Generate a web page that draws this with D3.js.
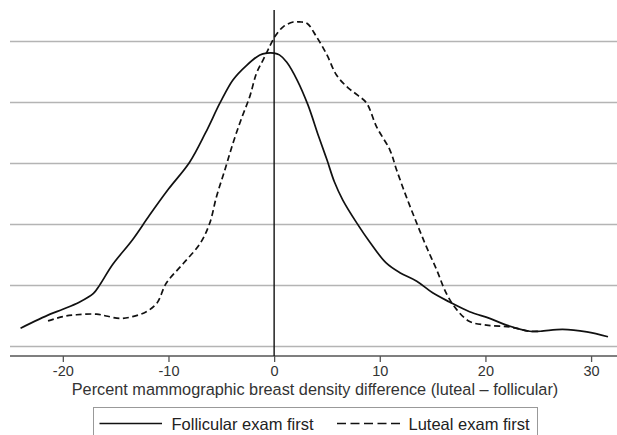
<!DOCTYPE html>
<html>
<head>
<meta charset="utf-8">
<script src="https://cdn.jsdelivr.net/npm/d3@7"></script>
<style>
    body { margin: 0; background: #fff; }
    svg { display: block; font-family: "Liberation Sans", Arial, sans-serif; }
</style>
</head>
<body>
<div id="chart"></div>
<script>

// kernel density estimates (density scaled x100)
var follicularX = [-24.0, -21.2, -20.0, -18.4, -17.1, -16.5, -15.3, -13.4, -11.8, -10.0, -8.0, -6.5, -5.1, -3.9, -2.6, -1.35, -0.7, 0.0, 0.5, 1.2, 2.2, 3.2, 4.2, 5.0, 5.7, 6.5, 7.8, 9.1, 10.6, 11.9, 13.5, 15.0, 16.6, 18.5, 20.4, 22.0, 24.2, 25.2, 27.3, 29.6, 31.6];
var follicularY = [0.30, 0.53, 0.61, 0.73, 0.87, 1.01, 1.34, 1.75, 2.15, 2.58, 3.02, 3.50, 4.00, 4.37, 4.61, 4.78, 4.81, 4.81, 4.78, 4.66, 4.36, 3.96, 3.45, 3.06, 2.70, 2.40, 2.03, 1.70, 1.37, 1.21, 1.07, 0.88, 0.73, 0.57, 0.46, 0.35, 0.25, 0.25, 0.28, 0.24, 0.16];

var lutealX = [-21.4, -20.0, -18.7, -16.8, -15.9, -14.6, -13.4, -12.1, -11.1, -10.2, -8.6, -7.0, -6.1, -5.45, -4.67, -3.9, -3.15, -2.3, -1.67, -1.04, -0.5, 0.07, 0.85, 1.8, 2.4, 3.1, 4.0, 5.0, 5.9, 7.0, 7.9, 8.75, 9.7, 10.96, 11.6, 12.5, 13.5, 14.4, 15.4, 16.3, 17.3, 18.5, 20.1, 22.3, 24.2, 25.2];
var lutealY = [0.42, 0.49, 0.52, 0.53, 0.50, 0.46, 0.49, 0.57, 0.71, 1.04, 1.36, 1.69, 2.02, 2.46, 2.89, 3.33, 3.71, 4.10, 4.48, 4.70, 4.89, 5.08, 5.24, 5.32, 5.32, 5.30, 5.08, 4.78, 4.45, 4.24, 4.12, 3.99, 3.60, 3.22, 2.89, 2.46, 2.02, 1.64, 1.25, 0.87, 0.60, 0.41, 0.35, 0.32, 0.25, 0.25];

var xTicks = [-20, -10, 0, 10, 20, 30];
var yGrid = [0, 1, 2, 3, 4, 5];

var seriesNames = ['Follicular exam first', 'Luteal exam first'];
var xTitle = 'Percent mammographic breast density difference (luteal \u2013 follicular)';

var _width = 617,
    _height = 435,
    _plotLeft = 10,
    _plotRight = 617.5,
    _plotTop = 10,
    _plotBottom = 356;

var svg = d3.select('#chart').append('svg')
    .attr('width', _width)
    .attr('height', _height);

var x = d3.scaleLinear().domain([-25, 32.5]).range([_plotLeft, _plotRight]);
var y = d3.scaleLinear().domain([-0.156, 5.516]).range([_plotBottom, _plotTop]);

// GRID
// ----------------------------------------------------------------
svg.append('g').selectAll('line')
    .data(yGrid)
    .enter().append('line')
    .attr('x1', _plotLeft)
    .attr('x2', _width)
    .attr('y1', function (d) { return y(d); })
    .attr('y2', function (d) { return y(d); })
    .attr('stroke', '#b4b4b4')
    .attr('stroke-width', 1.6);

// X AXIS
// ----------------------------------------------------------------
var gAxis = svg.append('g')
    .attr('transform', 'translate(0,' + _plotBottom + ')')
    .call(d3.axisBottom(x).tickValues(xTicks).tickSize(6).tickPadding(4)
        .tickFormat(function (d) { return String(d); }));

gAxis.select('.domain')
    .attr('d', 'M' + _plotLeft + ',0H' + _width)
    .attr('stroke', '#555')
    .attr('stroke-width', 1.4);
gAxis.selectAll('.tick line').attr('stroke', '#555').attr('stroke-width', 1.3);
gAxis.selectAll('.tick text')
    .attr('fill', '#333')
    .style('font-size', '14.5px')
    .style('font-family', '"Liberation Sans", Arial, sans-serif');

svg.append('text')
    .attr('x', 315)
    .attr('y', 395)
    .attr('text-anchor', 'middle')
    .attr('fill', '#333')
    .style('font-size', '16.3px')
    .text(xTitle);

// ZERO LINE
// ----------------------------------------------------------------
svg.append('line')
    .attr('x1', x(0)).attr('x2', x(0))
    .attr('y1', _plotTop).attr('y2', _plotBottom)
    .attr('stroke', '#111')
    .attr('stroke-width', 1.4);

// CURVES
// ----------------------------------------------------------------
var line = d3.line()
    .x(function (d) { return x(d[0]); })
    .y(function (d) { return y(d[1]); })
    .curve(d3.curveCatmullRom.alpha(0.5));

svg.append('path')
    .datum(d3.zip(follicularX, follicularY))
    .attr('d', line)
    .attr('fill', 'none')
    .attr('stroke', '#111')
    .attr('stroke-width', 1.7);

svg.append('path')
    .datum(d3.zip(lutealX, lutealY))
    .attr('d', line)
    .attr('fill', 'none')
    .attr('stroke', '#111')
    .attr('stroke-width', 1.7)
    .attr('stroke-dasharray', '6,3.5');

// LEGEND
// ----------------------------------------------------------------
var gLegend = svg.append('g');
gLegend.append('rect')
    .attr('x', 93.5).attr('y', 407.5)
    .attr('width', 444).attr('height', 40)
    .attr('fill', '#fff')
    .attr('stroke', '#999')
    .attr('stroke-width', 1);

var legendItems = [
    { name: seriesNames[0], x1: 99.5, x2: 162, tx: 171.5, dash: null },
    { name: seriesNames[1], x1: 337, x2: 400, tx: 408.5, dash: '9,4.5' }
];

legendItems.forEach(function (it) {
    gLegend.append('line')
        .attr('x1', it.x1).attr('x2', it.x2)
        .attr('y1', 423.5).attr('y2', 423.5)
        .attr('stroke', '#111')
        .attr('stroke-width', 1.5)
        .attr('stroke-dasharray', it.dash);
    gLegend.append('text')
        .attr('x', it.tx)
        .attr('y', 429.5)
        .attr('fill', '#222')
        .style('font-size', '16.5px')
        .text(it.name);
});

</script>
</body>
</html>
